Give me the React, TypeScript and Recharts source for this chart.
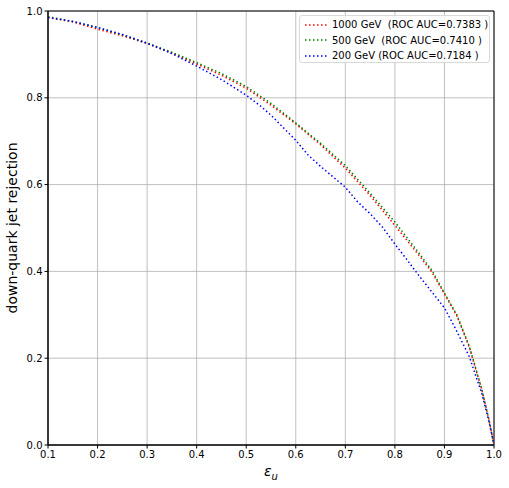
import React from 'react';
import {
  CartesianGrid,
  Legend,
  Line,
  LineChart,
  ReferenceArea,
  XAxis,
  YAxis,
} from 'recharts';

const effRed = [0.1, 0.15, 0.2, 0.25, 0.3, 0.35, 0.4, 0.45, 0.5, 0.55, 0.6, 0.65, 0.7, 0.75, 0.8, 0.85, 0.875, 0.9, 0.925, 0.95, 0.975, 0.99, 1.0];
const rej1000 = [0.985, 0.975, 0.958, 0.943, 0.925, 0.903, 0.878, 0.852, 0.822, 0.783, 0.74, 0.692, 0.638, 0.575, 0.506, 0.435, 0.398, 0.348, 0.298, 0.226, 0.129, 0.057, 0];
const rej500 = [0.987, 0.976, 0.962, 0.945, 0.926, 0.905, 0.881, 0.856, 0.826, 0.787, 0.742, 0.695, 0.644, 0.58, 0.514, 0.44, 0.402, 0.35, 0.3, 0.228, 0.13, 0.058, 0];

const eff200 = [0.1, 0.15, 0.2, 0.25, 0.3, 0.35, 0.4, 0.45, 0.5, 0.53, 0.55, 0.6, 0.625, 0.65, 0.7, 0.725, 0.75, 0.775, 0.8, 0.825, 0.85, 0.875, 0.9, 0.925, 0.95, 0.975, 0.99, 1.0];
const rej200 = [0.985, 0.976, 0.962, 0.946, 0.926, 0.902, 0.873, 0.842, 0.806, 0.78, 0.76, 0.702, 0.668, 0.642, 0.594, 0.56, 0.533, 0.502, 0.463, 0.426, 0.388, 0.352, 0.316, 0.262, 0.204, 0.12, 0.053, 0];

const xTicks = [0.1, 0.2, 0.3, 0.4, 0.5, 0.6, 0.7, 0.8, 0.9, 1.0];
const yTicks = [0, 0.2, 0.4, 0.6, 0.8, 1.0];

const series = [
  { name: '1000 GeV  (ROC AUC=0.7383 )', color: '#ff0000', xs: effRed, ys: rej1000 },
  { name: '500 GeV  (ROC AUC=0.7410 )', color: '#008000', xs: effRed, ys: rej500 },
  { name: '200 GeV (ROC AUC=0.7184 )', color: '#0000ff', xs: eff200, ys: rej200 },
];

const FONT = 'DejaVu Sans, sans-serif';
const dots = '1.5 2.5';

function LegendBox() {
  return (
    <div
      style={{
        position: 'absolute',
        left: 299,
        top: 15,
        width: 191,
        height: 48,
        border: '1px solid #d9d9d9',
        borderRadius: 3,
        background: 'rgba(255,255,255,0.8)',
        fontFamily: FONT,
        fontSize: 10,
        boxSizing: 'border-box',
        padding: '1px 0 0 4px',
      }}
    >
      {series.map((s) => (
        <div key={s.name} style={{ display: 'flex', alignItems: 'center', height: 15.5 }}>
          <svg width={24} height={6} style={{ marginRight: 4 }}>
            <line x1={1} y1={3} x2={23} y2={3} stroke={s.color} strokeWidth={1.5} strokeDasharray={dots} />
          </svg>
          <span style={{ whiteSpace: 'pre' }}>{s.name}</span>
        </div>
      ))}
    </div>
  );
}

export default function App() {
  return (
    <div style={{ position: 'absolute', left: 0, top: 0, width: 509, height: 488, background: '#fff' }}>
      <LineChart width={509} height={488} margin={{ top: 11, right: 15, bottom: 0, left: 0 }}>
        <CartesianGrid stroke="#b0b0b0" strokeWidth={0.8} />
        <XAxis
          type="number"
          dataKey="x"
          domain={[0.1, 1]}
          ticks={xTicks}
          tickFormatter={(v: number) => v.toFixed(1)}
          allowDataOverflow
          height={43}
          stroke="#000"
          tickSize={3.5}
          tick={{ fontSize: 10, fill: '#000', fontFamily: FONT }}
          label={(props: any) => {
            const vb = props.viewBox;
            const cx = vb.x + vb.width / 2;
            return (
              <text x={cx} y={vb.y + 31} textAnchor="middle" fontFamily={FONT} fontSize={14} fill="#000">
                <tspan fontStyle="italic">ε</tspan>
                <tspan fontStyle="italic" fontSize={10} dy={4}>u</tspan>
              </text>
            );
          }}
        />
        <YAxis
          type="number"
          dataKey="y"
          domain={[0, 1]}
          ticks={yTicks}
          tickFormatter={(v: number) => v.toFixed(1)}
          allowDataOverflow
          width={48}
          stroke="#000"
          tickSize={3.5}
          tick={{ fontSize: 10, fill: '#000', fontFamily: FONT }}
          label={(props: any) => {
            const vb = props.viewBox;
            const cy = vb.y + vb.height / 2;
            return (
              <text
                x={17}
                y={cy}
                transform={`rotate(-90, 17, ${cy})`}
                textAnchor="middle"
                fontFamily={FONT}
                fontSize={14}
                fill="#000"
              >
                down-quark jet rejection
              </text>
            );
          }}
        />
        <ReferenceArea x1={0.1} x2={1} y1={0} y2={1} fill="none" stroke="#000" strokeWidth={1} ifOverflow="visible" />
        {series.map((s) => (
          <Line
            key={s.name}
            data={s.xs.map((x, i) => ({ x, y: s.ys[i] }))}
            dataKey="y"
            name={s.name}
            type="linear"
            stroke={s.color}
            strokeWidth={1.5}
            strokeDasharray={dots}
            dot={false}
            activeDot={false}
            isAnimationActive={false}
          />
        ))}
        <Legend content={() => null} />
      </LineChart>
      <LegendBox />
    </div>
  );
}
